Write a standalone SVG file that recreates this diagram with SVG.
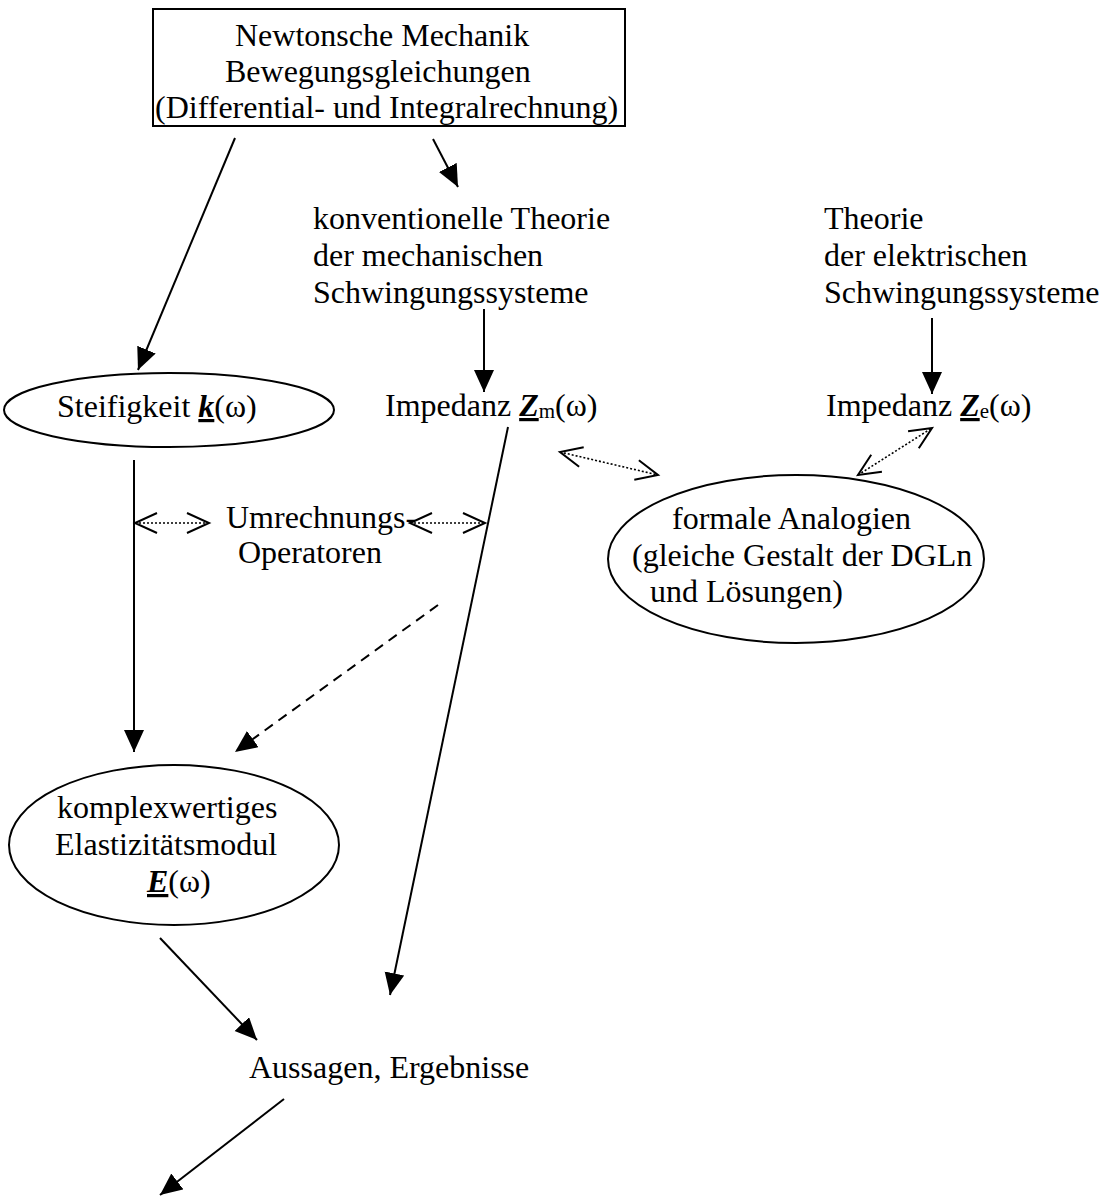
<svg xmlns="http://www.w3.org/2000/svg" width="1107" height="1200" viewBox="0 0 1107 1200">
  <style>
    text { font-family: "Liberation Serif", "Times New Roman", serif; font-size: 32px; fill: #000; }
    .sym { font-weight: bold; font-style: italic; text-decoration: underline; }
    .sub { font-size: 21px; }
    .shape { fill: none; stroke: #000; stroke-width: 2; }
    .arrow { fill: none; stroke: #000; stroke-width: 2; marker-end: url(#head); }
    .dashed { stroke-dasharray: 10 7; }
    .dotted { fill: none; stroke: #000; stroke-width: 1.6; stroke-dasharray: 2 2; marker-start: url(#open); marker-end: url(#open); }
  </style>
  <defs>
    <marker id="head" markerUnits="userSpaceOnUse" markerWidth="24" markerHeight="22" refX="22" refY="10" orient="auto" viewBox="0 0 24 22">
      <path d="M0,0 L22,10 L0,20 z" fill="#000"/>
    </marker>
    <marker id="open" markerUnits="userSpaceOnUse" markerWidth="26" markerHeight="26" refX="23" refY="12" orient="auto-start-reverse" viewBox="0 0 26 26">
      <path d="M1,2 L23,12 L1,22" fill="none" stroke="#000" stroke-width="2"/>
    </marker>
  </defs>

  <!-- nodes -->
  <g id="newton">
    <rect class="shape" x="153" y="9" width="472" height="117"/>
    <text x="235" y="46">Newtonsche Mechanik</text>
    <text x="225" y="82">Bewegungsgleichungen</text>
    <text x="155" y="118">(Differential- und Integralrechnung)</text>
  </g>

  <g id="theorie-mech">
    <text x="313" y="229">konventionelle Theorie</text>
    <text x="313" y="266">der mechanischen</text>
    <text x="313" y="303">Schwingungssysteme</text>
  </g>

  <g id="theorie-el">
    <text x="824" y="229">Theorie</text>
    <text x="824" y="266">der elektrischen</text>
    <text x="824" y="303">Schwingungssysteme</text>
  </g>

  <g id="steifigkeit">
    <ellipse class="shape" cx="169" cy="410" rx="165" ry="37"/>
    <text x="57" y="417">Steifigkeit <tspan class="sym">k</tspan>(ω)</text>
  </g>

  <g id="impedanz-m">
    <text x="385" y="416">Impedanz <tspan class="sym">Z</tspan><tspan class="sub" dy="2">m</tspan><tspan dy="-2">(ω)</tspan></text>
  </g>

  <g id="impedanz-e">
    <text x="826" y="416">Impedanz <tspan class="sym">Z</tspan><tspan class="sub" dy="2">e</tspan><tspan dy="-2">(ω)</tspan></text>
  </g>

  <g id="umrechnung">
    <text x="226" y="528">Umrechnungs-</text>
    <text x="238" y="563">Operatoren</text>
  </g>

  <g id="analogien">
    <ellipse class="shape" cx="796" cy="559" rx="188" ry="84"/>
    <text x="672" y="529">formale Analogien</text>
    <text x="632" y="566">(gleiche Gestalt der DGLn</text>
    <text x="650" y="602">und Lösungen)</text>
  </g>

  <g id="emodul">
    <ellipse class="shape" cx="174" cy="845" rx="165" ry="80"/>
    <text x="57" y="818">komplexwertiges</text>
    <text x="55" y="855">Elastizitätsmodul</text>
    <text x="147" y="892"><tspan class="sym">E</tspan>(ω)</text>
  </g>

  <g id="aussagen">
    <text x="249" y="1078">Aussagen, Ergebnisse</text>
  </g>

  <!-- connectors -->
  <g id="connectors">
    <line class="arrow" x1="235" y1="138" x2="138" y2="370"/>
    <line class="arrow" x1="433" y1="139" x2="458" y2="187"/>
    <line class="arrow" x1="484" y1="309" x2="484" y2="392"/>
    <line class="arrow" x1="932" y1="318" x2="932" y2="394"/>
    <line class="arrow" x1="134" y1="460" x2="134" y2="752"/>
    <line class="arrow dashed" x1="438" y1="605" x2="235" y2="752"/>
    <line class="arrow" x1="508" y1="427" x2="390" y2="995"/>
    <line class="arrow" x1="160" y1="938" x2="257" y2="1040"/>
    <line class="arrow" x1="284" y1="1099" x2="160" y2="1195"/>

    <line class="dotted" x1="135" y1="523" x2="209" y2="523"/>
    <line class="dotted" x1="410" y1="523" x2="485" y2="523"/>
    <line class="dotted" x1="560" y1="452" x2="658" y2="475"/>
    <line class="dotted" x1="858" y1="475" x2="932" y2="428"/>
  </g>
</svg>
